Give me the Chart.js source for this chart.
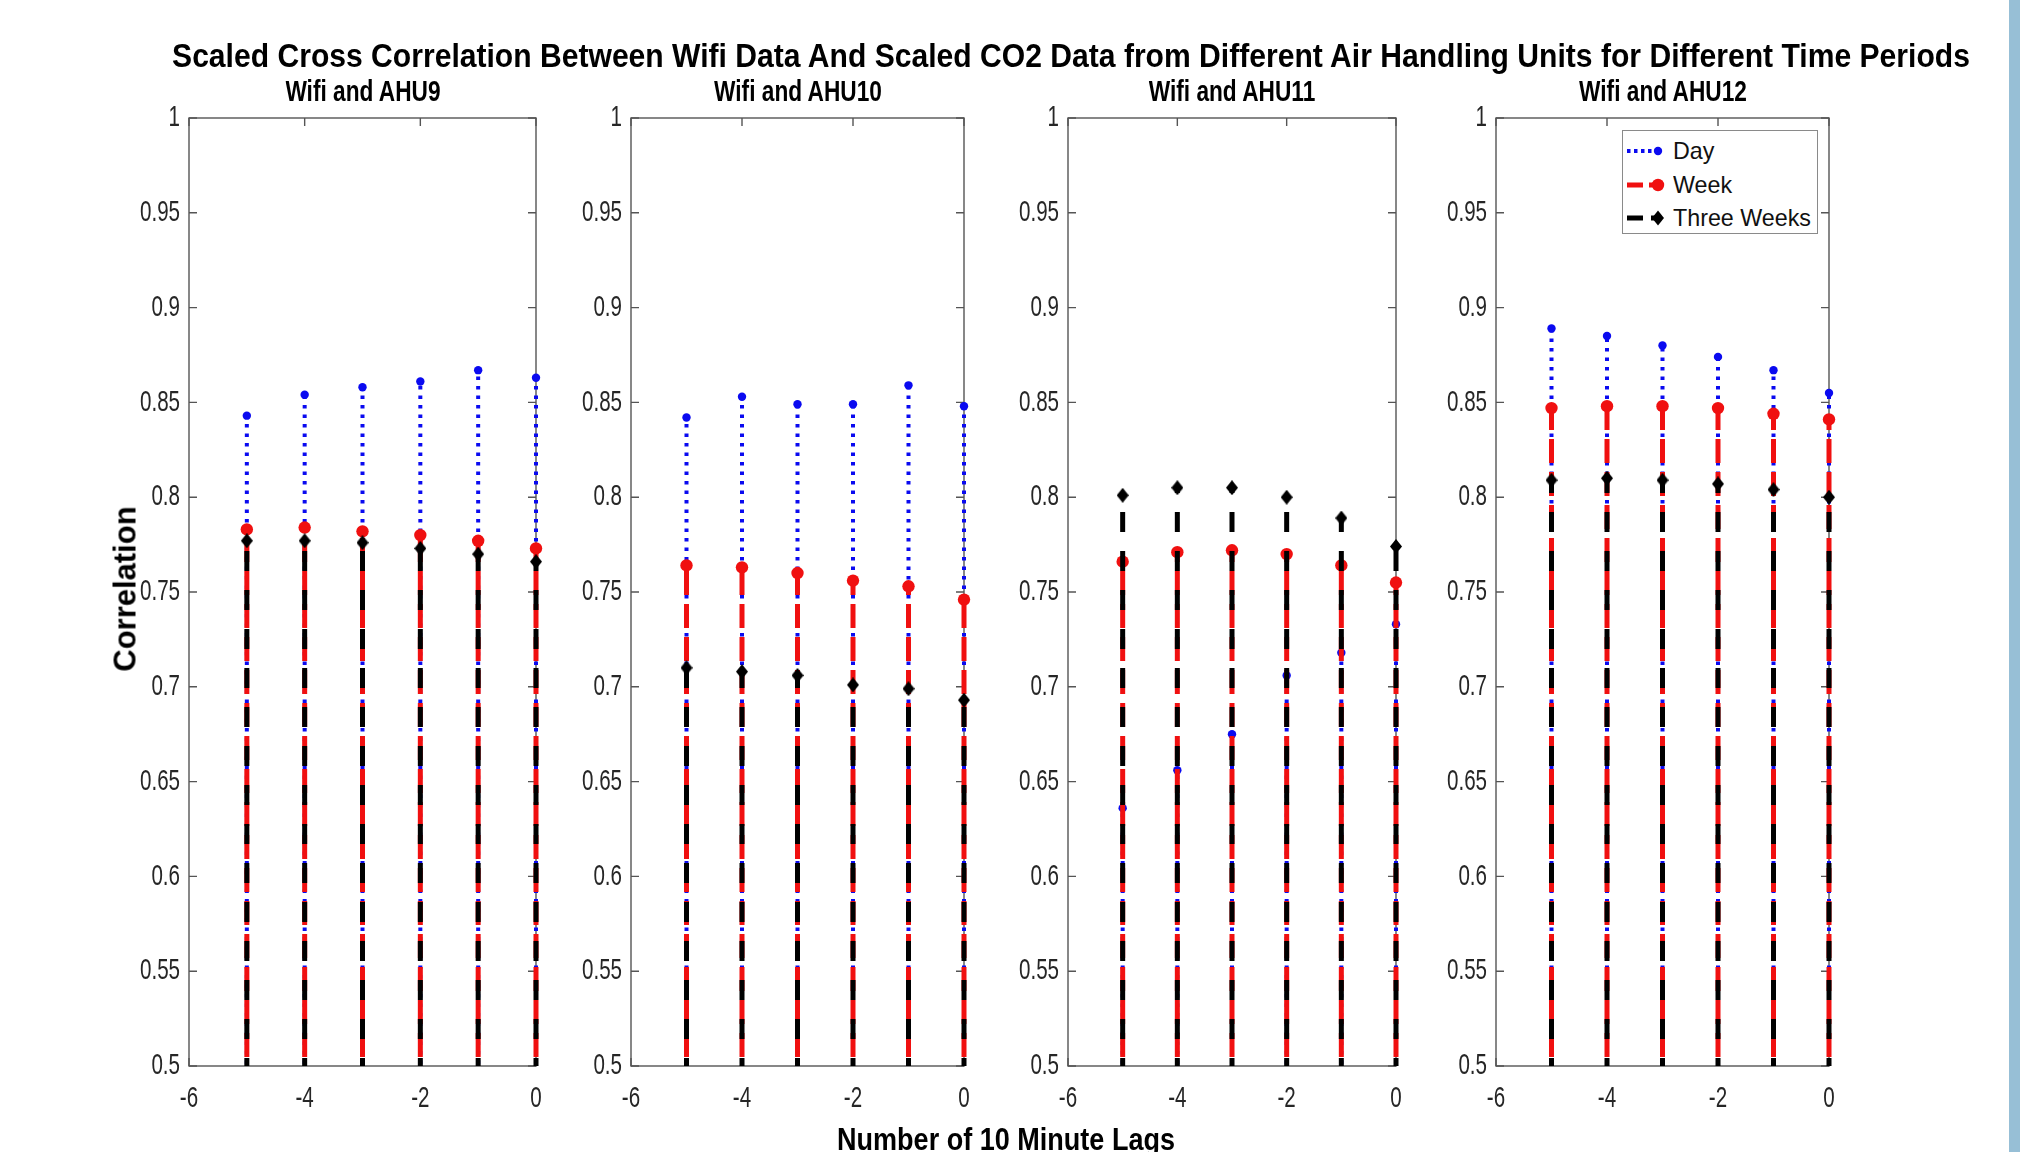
<!DOCTYPE html>
<html>
<head>
<meta charset="utf-8">
<script src="https://cdn.jsdelivr.net/npm/chart.js@4.4.1/dist/chart.umd.min.js"></script>
<style>
html, body { margin: 0; padding: 0; background: #ffffff; overflow: hidden; }
#fig { position: relative; width: 2020px; height: 1152px; overflow: hidden; background: #ffffff;
       font-family: "Liberation Sans", Arial, Helvetica, sans-serif; color: #000; }
#fig canvas { position: absolute; top: 0; }
.txt { position: absolute; white-space: nowrap; font-weight: bold; color: #000; line-height: 1; }
#strip { position: absolute; left: 2009px; top: 0; width: 11px; height: 1152px; background: #97bfd6; }
#legend { position: absolute; background: #fff; border: 1px solid #8a8a8a; box-sizing: border-box; }
.lrow { position: absolute; left: 0; height: 30px; width: 100%; }
.lrow svg { position: absolute; left: 0; top: 0; }
.lrow span { position: absolute; font-size: 24px; line-height: 30px; top: 0; color: #111; font-weight: normal;
             transform-origin: 0 50%; }
</style>
</head>
<body>
<div id="fig">
  <div id="strip"></div>
</div>
<script>
// ---------------- DATA ----------------
const lags = [-5, -4, -3, -2, -1, 0];
const panelTitles = ["Wifi and AHU9", "Wifi and AHU10", "Wifi and AHU11", "Wifi and AHU12"];
const seriesNames = ["Day", "Week", "Three Weeks"];
const figureTitle = "Scaled Cross Correlation Between Wifi Data And Scaled CO2 Data from Different Air Handling Units for Different Time Periods";
const xAxisTitle = "Number of 10 Minute Lags";
const yAxisTitle = "Correlation";

const dayAHU9        = [0.843, 0.854, 0.858, 0.861, 0.867, 0.863];
const weekAHU9       = [0.783, 0.784, 0.782, 0.780, 0.777, 0.773];
const threeWeeksAHU9 = [0.777, 0.777, 0.776, 0.773, 0.770, 0.766];

const dayAHU10        = [0.842, 0.853, 0.849, 0.849, 0.859, 0.848];
const weekAHU10       = [0.764, 0.763, 0.760, 0.756, 0.753, 0.746];
const threeWeeksAHU10 = [0.710, 0.708, 0.706, 0.701, 0.699, 0.693];

const dayAHU11        = [0.636, 0.656, 0.675, 0.706, 0.718, 0.733];
const weekAHU11       = [0.766, 0.771, 0.772, 0.770, 0.764, 0.755];
const threeWeeksAHU11 = [0.801, 0.805, 0.805, 0.800, 0.789, 0.774];

const dayAHU12        = [0.889, 0.885, 0.880, 0.874, 0.867, 0.855];
const weekAHU12       = [0.847, 0.848, 0.848, 0.847, 0.844, 0.841];
const threeWeeksAHU12 = [0.809, 0.810, 0.809, 0.807, 0.804, 0.800];

const yTicks = [0.5, 0.55, 0.6, 0.65, 0.7, 0.75, 0.8, 0.85, 0.9, 0.95, 1];
const yTickLabels = ["0.5", "0.55", "0.6", "0.65", "0.7", "0.75", "0.8", "0.85", "0.9", "0.95", "1"];
const xTicks = [-6, -4, -2, 0];
const xTickLabels = ["-6", "-4", "-2", "0"];
const stemBase = 0;

const panelData = [
  [dayAHU9, weekAHU9, threeWeeksAHU9],
  [dayAHU10, weekAHU10, threeWeeksAHU10],
  [dayAHU11, weekAHU11, threeWeeksAHU11],
  [dayAHU12, weekAHU12, threeWeeksAHU12]
];

// ---------------- LAYOUT / STYLE ----------------
const panelLeft  = [189, 631, 1068, 1496];
const panelRight = [536, 964, 1396, 1829];
const plotTop = 118;
const plotBottom = 1066;
const marginL = 100, marginR = 20;
const axisColor = "#555555";
const tickLabelColor = "#262626";
const family = '"Liberation Sans", Arial, Helvetica, sans-serif';

const measureCtx = document.createElement('canvas').getContext('2d');
function textWidth(text, weight, size) {
  measureCtx.font = weight + ' ' + size + 'px ' + family;
  return measureCtx.measureText(text).width;
}

// condensed tick labels (reference uses tall, narrow glyphs)
const tickFont = 30;
const tickScaleX = 40 / textWidth("0.95", "normal", tickFont);

function diamondImage(w, h, color) {
  const c = document.createElement('canvas');
  c.width = w; c.height = h;
  const g = c.getContext('2d');
  g.fillStyle = color;
  g.beginPath();
  g.moveTo(w / 2, 0); g.lineTo(w, h / 2); g.lineTo(w / 2, h); g.lineTo(0, h / 2);
  g.closePath(); g.fill();
  return c;
}

const seriesStyles = [
  { color: "#0a0af0", width: 4, dash: [3.5, 6], pointStyle: "circle", radius: 4.2 },
  { color: "#f01010", width: 5, dash: [24, 9], pointStyle: "circle", radius: 6.2 },
  { color: "#000000", width: 5, dash: [20, 19], pointStyle: diamondImage(12, 15, "#000000"), radius: 7 }
];

const boxPlugin = {
  id: 'matlabBox',
  beforeDatasetsDraw(chart) {
    const { ctx, chartArea: a, scales } = chart;
    ctx.save();
    ctx.strokeStyle = axisColor;
    ctx.lineWidth = 1.4;
    ctx.strokeRect(a.left, a.top, a.right - a.left, a.bottom - a.top);
    const tl = 8;
    ctx.beginPath();
    scales.y.ticks.forEach(t => {
      const y = scales.y.getPixelForValue(t.value);
      ctx.moveTo(a.left, y); ctx.lineTo(a.left + tl, y);
      ctx.moveTo(a.right, y); ctx.lineTo(a.right - tl, y);
    });
    scales.x.ticks.forEach(t => {
      const x = scales.x.getPixelForValue(t.value);
      ctx.moveTo(x, a.top); ctx.lineTo(x, a.top + tl);
      ctx.moveTo(x, a.bottom); ctx.lineTo(x, a.bottom - tl);
    });
    ctx.stroke();
    ctx.restore();
  },
  afterDraw(chart) {
    // tick labels, placed by the chart's own scales, drawn with condensed glyphs
    const { ctx, chartArea: a, scales } = chart;
    ctx.save();
    ctx.fillStyle = tickLabelColor;
    ctx.font = 'normal ' + tickFont + 'px ' + family;
    ctx.textBaseline = 'middle';
    ctx.textAlign = 'right';
    scales.y.ticks.forEach(t => {
      const y = scales.y.getPixelForValue(t.value);
      ctx.save();
      ctx.translate(a.left - 9, y);
      ctx.scale(tickScaleX, 1);
      ctx.fillText(yTickLabels[yTicks.indexOf(t.value)], 0, 0);
      ctx.restore();
    });
    ctx.textAlign = 'center';
    scales.x.ticks.forEach(t => {
      const x = scales.x.getPixelForValue(t.value);
      ctx.save();
      ctx.translate(x, a.bottom + 33);
      ctx.scale(tickScaleX, 1);
      ctx.fillText(xTickLabels[xTicks.indexOf(t.value)], 0, 0);
      ctx.restore();
    });
    ctx.restore();
  }
};

function buildDatasets(seriesValues) {
  const ds = [];
  let order = 100;
  seriesValues.forEach((vals, si) => {
    const st = seriesStyles[si];
    lags.forEach((lag, i) => {
      ds.push({
        label: seriesNames[si] + " stem",
        data: [{ x: lag, y: stemBase }, { x: lag, y: vals[i] }],
        showLine: true,
        borderColor: st.color,
        borderWidth: st.width,
        borderDash: st.dash,
        borderCapStyle: 'butt',
        pointRadius: 0,
        pointHoverRadius: 0,
        order: order,
        clip: { left: 10, right: 10, top: 10, bottom: 0 }
      });
    });
    order--;
    ds.push({
      label: seriesNames[si],
      data: lags.map((lag, i) => ({ x: lag, y: vals[i] })),
      showLine: false,
      pointStyle: st.pointStyle,
      pointRadius: st.radius,
      pointHoverRadius: st.radius,
      backgroundColor: st.color,
      borderColor: st.color,
      borderWidth: 0,
      order: order,
      clip: 12
    });
    order--;
  });
  return ds;
}

const fig = document.getElementById('fig');

// text centred at (cx, cy), font size `size`, horizontally scaled by sx
function addText(text, cx, cy, size, sx, rotate) {
  const d = document.createElement('div');
  d.className = 'txt';
  d.textContent = text;
  d.style.left = cx + 'px';
  d.style.top = cy + 'px';
  d.style.fontFamily = family;
  d.style.fontSize = size + 'px';
  d.style.transform = 'translate(-50%, -50%)' + (rotate ? ' rotate(-90deg)' : '') + ' scaleX(' + sx.toFixed(4) + ')';
  fig.appendChild(d);
  return d;
}

const subFont = 30;
const subScaleX = 156 / textWidth(panelTitles[0], 'bold', subFont);

panelData.forEach((seriesValues, p) => {
  const cv = document.createElement('canvas');
  const pw = panelRight[p] - panelLeft[p];
  const w = pw + marginL + marginR;
  cv.width = w; cv.height = 1152;
  cv.style.left = (panelLeft[p] - marginL) + 'px';
  cv.style.width = w + 'px'; cv.style.height = '1152px';
  fig.appendChild(cv);

  new Chart(cv, {
    type: 'scatter',
    data: { datasets: buildDatasets(seriesValues) },
    options: {
      responsive: false,
      animation: false,
      devicePixelRatio: 1,
      events: [],
      layout: { padding: { left: 0, right: marginR, top: plotTop, bottom: 0 } },
      plugins: { legend: { display: false }, tooltip: { enabled: false }, title: { display: false } },
      scales: {
        x: {
          type: 'linear', min: -6, max: 0,
          afterBuildTicks: s => { s.ticks = xTicks.map(v => ({ value: v })); },
          afterFit: s => { s.height = 1152 - plotBottom; },
          grid: { display: false, drawTicks: false },
          border: { display: false },
          ticks: { display: false }
        },
        y: {
          type: 'linear', min: 0.5, max: 1,
          afterBuildTicks: s => { s.ticks = yTicks.map(v => ({ value: v })); },
          afterFit: s => { s.width = marginL; },
          grid: { display: false, drawTicks: false },
          border: { display: false },
          ticks: { display: false }
        }
      }
    },
    plugins: [boxPlugin]
  });

  addText(panelTitles[p], (panelLeft[p] + panelRight[p]) / 2, 91, subFont, subScaleX);
});

const titleFont = 34;
addText(figureTitle, 1071, 55, titleFont, 1800 / textWidth(figureTitle, 'bold', titleFont));
const xlFont = 32;
addText(xAxisTitle, 1006, 1139, xlFont, 338 / textWidth(xAxisTitle, 'bold', xlFont));
const ylFont = 31;
addText(yAxisTitle, 125, 589, ylFont, 1.0, true);

// ---------------- LEGEND (inside last panel) ----------------
const legend = document.createElement('div');
legend.id = 'legend';
legend.style.left = '1622px';
legend.style.top = '130px';
legend.style.width = '196px';
legend.style.height = '104px';
fig.appendChild(legend);
const legendScaleX = 138 / textWidth("Three Weeks", 'normal', 24);
const rowCenters = [20, 54, 87];
seriesNames.forEach((name, si) => {
  const st = seriesStyles[si];
  const row = document.createElement('div');
  row.className = 'lrow';
  row.style.top = (rowCenters[si] - 15) + 'px';
  const ns = 'http://www.w3.org/2000/svg';
  const svg = document.createElementNS(ns, 'svg');
  svg.setAttribute('width', '48'); svg.setAttribute('height', '30');
  const ln = document.createElementNS(ns, 'line');
  ln.setAttribute('x1', '4'); ln.setAttribute('x2', '35');
  ln.setAttribute('y1', '15'); ln.setAttribute('y2', '15');
  ln.setAttribute('stroke', st.color);
  ln.setAttribute('stroke-width', st.width);
  ln.setAttribute('stroke-dasharray', si === 0 ? '3.5 3.5' : (si === 1 ? '16 6' : '16 8'));
  svg.appendChild(ln);
  let mk;
  if (si === 2) {
    mk = document.createElementNS(ns, 'polygon');
    mk.setAttribute('points', '35,7.5 41,15 35,22.5 29,15');
  } else {
    mk = document.createElementNS(ns, 'circle');
    mk.setAttribute('cx', '35'); mk.setAttribute('cy', '15');
    mk.setAttribute('r', si === 0 ? 4.2 : 6.2);
  }
  mk.setAttribute('fill', st.color);
  svg.appendChild(mk);
  row.appendChild(svg);
  const sp = document.createElement('span');
  sp.textContent = name;
  sp.style.left = '50px';
  sp.style.transform = 'scaleX(' + legendScaleX.toFixed(4) + ')';
  row.appendChild(sp);
  legend.appendChild(row);
});
</script>
</body>
</html>
